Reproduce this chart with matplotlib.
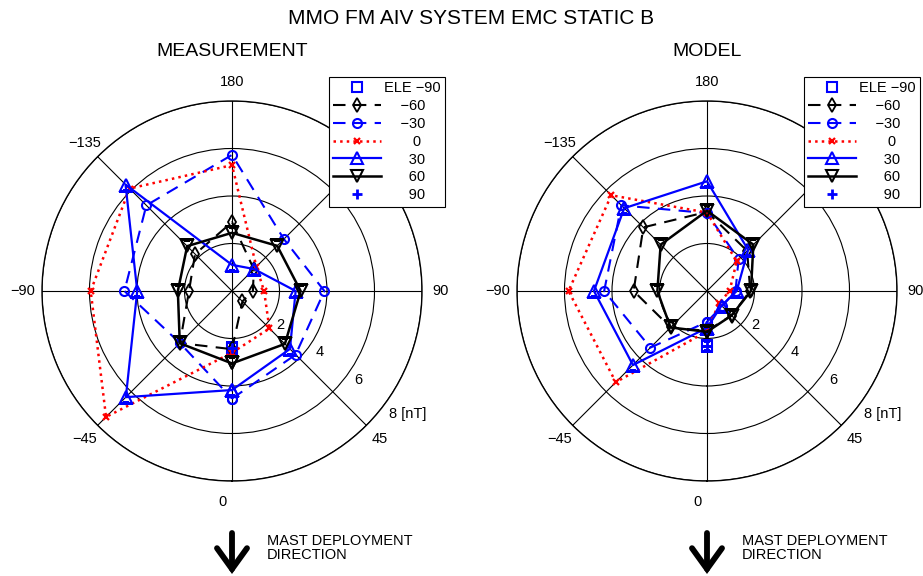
import numpy as np
import matplotlib
matplotlib.use('Agg')
import matplotlib.pyplot as plt

plt.rcParams['font.family'] = ['Liberation Sans', 'DejaVu Sans']

# azimuth of each point [deg] (0 = mast deployment direction)
theta_deg = [0, 45, 90, 135, 180, -135, -90, -45]

# |B| [nT] per elevation - MEASUREMENT
meas_m60 = [2.45, 0.62, 0.88, 1.30, 2.90, 2.20, 1.81, 3.10]
meas_m30 = [4.53, 3.79, 3.89, 3.09, 5.73, 5.10, 4.53, 3.10]
meas_0   = [2.60, 2.23, 1.35, 1.45, 5.30, 6.10, 5.95, 7.50]
meas_30  = [4.17, 3.45, 2.68, 1.31, 1.10, 6.34, 3.99, 6.32]
meas_60  = [3.05, 3.15, 2.89, 2.69, 2.45, 2.67, 2.28, 3.11]

# |B| [nT] per elevation - MODEL
model_m60 = [1.68, 1.46, 1.82, 2.39, 3.33, 3.79, 3.09, 2.17]
model_m30 = [1.30, 0.90, 1.20, 1.88, 3.28, 5.10, 4.33, 3.37]
model_0   = [1.70, 0.72, 0.95, 1.77, 3.30, 5.70, 5.83, 5.43]
model_30  = [1.55, 0.87, 1.25, 2.45, 4.62, 4.93, 4.76, 4.41]
model_60  = [1.72, 1.46, 1.85, 2.76, 3.38, 2.76, 2.09, 2.17]

# ELE -90 / +90 : single point
pole_theta = [0]
meas_m90  = [2.40]
meas_p90  = [2.40]
model_m90 = [2.30]
model_p90 = [2.30]

grid_theta  = [0, 45, 90, 135, 180, -135, -90, -45]
grid_labels = ['0', '45', '90', '', '180', '\u2212135', '\u221290', '\u221245']  # 135 sits under the legend
ring_r      = [2, 4, 6, 8]
ring_labels = ['2', '4', '6', '8 [nT]']

leg_labels = ['ELE \u221290', '    \u221260', '    \u221230', '       0',
              '      30', '      60', '      90']

blue = '#0000ff'
red = '#ff0000'


def closed(v):
    return np.deg2rad(theta_deg + [theta_deg[0]]), v + [v[0]]


def panel(ax, s_m90, s_m60, s_m30, s_0, s_30, s_60, s_p90):
    ax.set_theta_zero_location('S')
    ax.set_theta_direction(1)
    ax.set_rlim(0, 8)
    ax.set_rticks(ring_r)
    ax.set_yticklabels([])
    ax.set_thetagrids(np.mod(grid_theta, 360), [''] * len(grid_theta))
    ax.grid(True, color='black', lw=0.8, ls='-')
    ax.spines['polar'].set_linewidth(1.0)
    ax.tick_params(axis='x', length=0)

    h = []
    h += ax.plot(np.deg2rad(pole_theta), s_m90, ls='none', marker='s', ms=7.5,
                 mfc='none', mec=blue, mew=1.5, color=blue)
    t, r = closed(s_m60)
    h += ax.plot(t, r, color='black', ls=(0, (6, 4)), lw=1.5, marker='d', ms=7,
                 mfc='none', mew=1.3)
    t, r = closed(s_m30)
    h += ax.plot(t, r, color=blue, ls=(0, (6, 4)), lw=1.5, marker='o', ms=6.5,
                 mfc='none', mew=1.5)
    t, r = closed(s_0)
    h += ax.plot(t, r, color=red, ls=':', lw=1.8, marker='x', ms=4.5, mew=1.6)
    t, r = closed(s_30)
    h += ax.plot(t, r, color=blue, ls='-', lw=1.6, marker='^', ms=8,
                 mfc='none', mew=1.5)
    t, r = closed(s_60)
    h += ax.plot(t, r, color='black', ls='-', lw=1.8, marker='v', ms=8,
                 mfc='none', mew=1.5)
    h += ax.plot(np.deg2rad(pole_theta), s_p90, ls='none', marker='+', ms=7,
                 mew=2, color=blue)

    # angle labels
    for a, lab in zip(grid_theta, grid_labels):
        if not lab:
            continue
        if a == 0:
            ax.text(np.deg2rad(-2.7), 8.9, lab, ha='center', va='center', fontsize=10.5)
        else:
            ax.text(np.deg2rad(a), 8.8, lab, ha='center', va='center', fontsize=10.5)
    # radial labels
    for rv, lab in zip(ring_r, ring_labels):
        if lab.startswith('8'):
            ax.text(np.deg2rad(52), 8.4, lab, ha='left', va='center', fontsize=10.5)
        else:
            ax.text(np.deg2rad(55), rv + 0.5, lab, ha='center', va='center', fontsize=10.5)

    leg = ax.legend(h, leg_labels, loc='upper left', bbox_to_anchor=(0.755, 1.063),
                    borderaxespad=0, fontsize=10.5, frameon=True, fancybox=False,
                    framealpha=1, edgecolor='black', handlelength=3.3,
                    handletextpad=0.2, labelspacing=0.26, borderpad=0.3)
    leg.get_frame().set_linewidth(0.8)
    return ax


fig = plt.figure(figsize=(9.23, 5.76), dpi=100)
W, H = 923.0, 576.0
ax1 = fig.add_axes([42 / W, (H - 481) / H, 380 / W, 380 / H], projection='polar')
ax2 = fig.add_axes([517 / W, (H - 481) / H, 380 / W, 380 / H], projection='polar')

panel(ax1, meas_m90, meas_m60, meas_m30, meas_0, meas_30, meas_60, meas_p90)
panel(ax2, model_m90, model_m60, model_m30, model_0, model_30, model_60, model_p90)

fig.text(471 / W, 1 - 18 / H, 'MMO FM AIV SYSTEM EMC STATIC B', ha='center', va='center', fontsize=15)
fig.text(232 / W, 1 - 52 / H, 'MEASUREMENT', ha='center', va='center', fontsize=14)
fig.text(707 / W, 1 - 52 / H, 'MODEL', ha='center', va='center', fontsize=14)

# mast deployment direction
for cx in [232, 707]:
    fig.patches.append(matplotlib.patches.FancyArrowPatch(
        (cx / W, 1 - 533 / H), (cx / W, 1 - 574 / H), transform=fig.transFigure,
        arrowstyle='->,head_length=0.5,head_width=0.36', mutation_scale=30,
        lw=4.2, color='black', shrinkA=0, shrinkB=0, joinstyle='miter'))
    fig.text((cx + 35) / W, 1 - 548 / H, 'MAST DEPLOYMENT\nDIRECTION', ha='left',
             va='center', fontsize=10.5, linespacing=0.95)

plt.savefig('out.png', dpi=100)
plt.close(fig)
